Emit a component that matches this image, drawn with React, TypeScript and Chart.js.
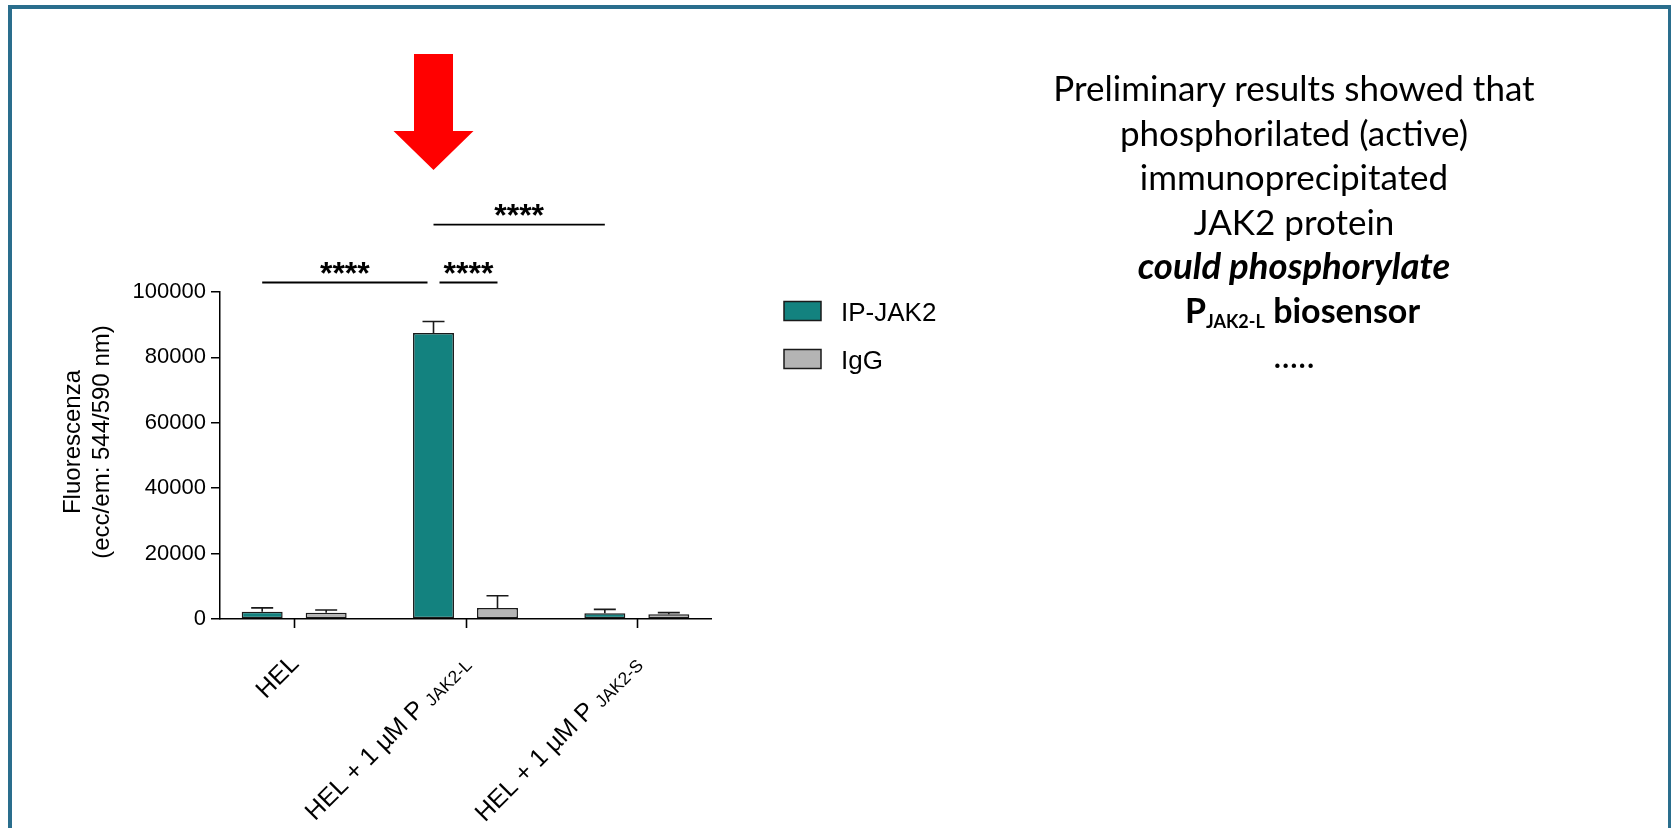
import React, { useEffect, useRef } from "react";
import { Chart, registerables } from "chart.js";

Chart.register(...registerables);

// ---------- data ----------
const categories = ["HEL", "HEL + 1 µM P", "HEL + 1 µM P"];
const categorySubscripts = ["", "JAK2-L", "JAK2-S"];
const seriesNames = ["IP-JAK2", "IgG"];
const ipJak2Values = [2250, 87500, 1750];
const ipJak2Errors = [1150, 3500, 1200];
const iggValues = [1900, 3400, 1450];
const iggErrors = [850, 3700, 500];
const yTicks = [0, 20000, 40000, 60000, 80000, 100000];
const yTitleLines = ["Fluorescenza", "(ecc/em: 544/590 nm)"];
// significance brackets: [dataset, category] -> [dataset, category], drawn at a y value
const bracketFrom = [[0, 0], [0, 1], [0, 1]];
const bracketTo = [[0, 1], [1, 1], [0, 2]];
const bracketLevels = [102900, 102900, 120600];
const bracketLabels = ["****", "****", "****"];
const paragraphLines = [
  "Preliminary results showed that",
  "phosphorilated (active)",
  "immunoprecipitated",
  "JAK2 protein",
];

// ---------- styles ----------
const TEAL = "#13827f";
const GRAY = "#b4b4b4";
const EDGE = "#1a1a1a";
const FONT = "Arial, 'Liberation Sans', sans-serif";
const FRAME = "#2a6e8d";

const valueSets = [ipJak2Values, iggValues];
const errorSets = [ipJak2Errors, iggErrors];

const annotationPlugin = {
  id: "annotations",
  afterDatasetsDraw(chart: any) {
    const { ctx } = chart;
    const y = chart.scales.y;
    const x = chart.scales.x;
    const area = chart.chartArea;
    ctx.save();

    // x-axis tick marks at category centres
    ctx.strokeStyle = "#000";
    ctx.lineWidth = 1.6;
    categories.forEach((_, i) => {
      const px = Math.round(x.getPixelForValue(i)) + 0.5;
      ctx.beginPath();
      ctx.moveTo(px, area.bottom);
      ctx.lineTo(px, area.bottom + 9);
      ctx.stroke();
    });

    // error bars
    ctx.strokeStyle = EDGE;
    ctx.lineWidth = 1.6;
    errorSets.forEach((errs, di) => {
      const meta = chart.getDatasetMeta(di);
      meta.data.forEach((bar: any, i: number) => {
        const top = y.getPixelForValue(valueSets[di][i] + errs[i]);
        ctx.beginPath();
        ctx.moveTo(bar.x, bar.y);
        ctx.lineTo(bar.x, top);
        ctx.moveTo(bar.x - 11, top);
        ctx.lineTo(bar.x + 11, top);
        ctx.stroke();
      });
    });

    // significance brackets
    const barX = (p: number[]) => chart.getDatasetMeta(p[0]).data[p[1]].x;
    bracketFrom.forEach((from, k) => {
      const to = bracketTo[k];
      let x1 = barX(from);
      let x2 = barX(to);
      // separate brackets that share an end point
      if (k === 0) x2 -= 6;
      if (k === 1) x1 += 6;
      const ly = y.getPixelForValue(bracketLevels[k]);
      ctx.strokeStyle = "#000";
      ctx.lineWidth = 1.8;
      ctx.beginPath();
      ctx.moveTo(x1, ly);
      ctx.lineTo(x2, ly);
      ctx.stroke();
      ctx.fillStyle = "#000";
      ctx.font = `bold 32px ${FONT}`;
      ctx.textAlign = "center";
      ctx.textBaseline = "alphabetic";
      ctx.fillText(bracketLabels[k], (x1 + x2) / 2, ly + 1);
    });

    // red arrow pointing at the IP-JAK2 bar of the second category
    const ax = chart.getDatasetMeta(0).data[1].x;
    ctx.fillStyle = "#ff0000";
    ctx.beginPath();
    ctx.moveTo(ax - 19.5, 54);
    ctx.lineTo(ax + 19.5, 54);
    ctx.lineTo(ax + 19.5, 131);
    ctx.lineTo(ax + 40, 131);
    ctx.lineTo(ax, 170);
    ctx.lineTo(ax - 40, 131);
    ctx.lineTo(ax - 19.5, 131);
    ctx.closePath();
    ctx.fill();

    // x category labels (rotated, with smaller subscript part)
    ctx.fillStyle = "#000";
    ctx.textBaseline = "alphabetic";
    ctx.textAlign = "left";
    categories.forEach((cat, i) => {
      const px = x.getPixelForValue(i);
      ctx.save();
      ctx.translate(px + 6, area.bottom + 46);
      ctx.rotate(-Math.PI / 4);
      ctx.font = `17.5px ${FONT}`;
      const sub = categorySubscripts[i];
      const wSub = sub ? ctx.measureText(sub).width : 0;
      ctx.font = `25px ${FONT}`;
      const main = sub ? cat + " " : cat;
      const wMain = ctx.measureText(main).width;
      ctx.fillText(main, -(wMain + wSub), 0);
      if (sub) {
        ctx.font = `17.5px ${FONT}`;
        ctx.fillText(sub, -wSub, 2);
      }
      ctx.restore();
    });

    // y axis title (two lines)
    ctx.font = `24px ${FONT}`;
    ctx.textAlign = "center";
    const cy = 442;
    [80, 108.5].forEach((bx, li) => {
      ctx.save();
      ctx.translate(bx, cy);
      ctx.rotate(-Math.PI / 2);
      ctx.fillText(yTitleLines[li], 0, 0);
      ctx.restore();
    });

    // legend
    const ds = chart.data.datasets;
    ctx.font = `26px ${FONT}`;
    ctx.textAlign = "left";
    ds.forEach((d: any, i: number) => {
      const base = 320.5 + i * 48;
      ctx.fillStyle = d.backgroundColor;
      ctx.fillRect(784, base - 19, 37, 19);
      ctx.strokeStyle = EDGE;
      ctx.lineWidth = 1.5;
      ctx.strokeRect(784, base - 19, 37, 19);
      ctx.fillStyle = "#000";
      ctx.fillText(d.label, 841, base);
    });

    ctx.restore();
  },
};

export default function App() {
  const canvasRef = useRef<HTMLCanvasElement>(null);

  useEffect(() => {
    const canvas = canvasRef.current;
    if (!canvas) return;
    const chart = new Chart(canvas, {
      type: "bar",
      data: {
        datasets: [
          {
            label: seriesNames[0],
            data: ipJak2Values.map((v, i) => ({ x: i, y: v })),
            backgroundColor: TEAL,
            borderColor: EDGE,
            borderWidth: 1.5,
            borderSkipped: false,
            categoryPercentage: 0.747,
            barPercentage: 0.64,
          },
          {
            label: seriesNames[1],
            data: iggValues.map((v, i) => ({ x: i, y: v })),
            backgroundColor: GRAY,
            borderColor: EDGE,
            borderWidth: 1.5,
            borderSkipped: false,
            categoryPercentage: 0.747,
            barPercentage: 0.64,
          },
        ],
      } as any,
      options: {
        responsive: true,
        maintainAspectRatio: false,
        animation: false,
        layout: { padding: { left: 0, top: 292, right: 289, bottom: 0 } },
        plugins: {
          legend: { display: false },
          tooltip: { enabled: false },
        },
        scales: {
          x: {
            type: "linear",
            min: -0.433,
            max: 2.433,
            offset: false,
            afterBuildTicks: (s: any) => {
              s.ticks = categories.map((_, i) => ({ value: i }));
            },
            afterFit: (s: any) => {
              s.height = 209;
            },
            ticks: { display: false },
            grid: { display: false, drawTicks: false },
            border: { display: true, color: "#000", width: 1.5 },
          },
          y: {
            min: 0,
            max: 100000,
            afterBuildTicks: (s: any) => {
              s.ticks = yTicks.map((v) => ({ value: v }));
            },
            afterFit: (s: any) => {
              s.width = 220;
            },
            ticks: {
              color: "#000",
              padding: 5,
              font: { family: FONT, size: 22 },
              callback: (v: any) => String(v),
            },
            grid: {
              drawOnChartArea: false,
              drawTicks: true,
              tickLength: 9,
              color: "#000",
              lineWidth: 1.5,
            },
            border: { display: true, color: "#000", width: 1.5 },
          },
        },
      } as any,
      plugins: [annotationPlugin],
    });
    return () => chart.destroy();
  }, []);

  const lineStyle: React.CSSProperties = { height: 44.5, whiteSpace: "nowrap" };

  return (
    <div
      style={{
        position: "fixed",
        left: 0,
        top: 0,
        width: 1671,
        height: 828,
        overflow: "hidden",
        background: "#fff",
      }}
    >
      <div
        style={{
          position: "absolute",
          left: 8,
          top: 5,
          width: 1664,
          height: 900,
          border: `4px solid ${FRAME}`,
          boxSizing: "border-box",
        }}
      />
      <div style={{ position: "absolute", left: 0, top: 0, width: 1000, height: 828 }}>
        <canvas ref={canvasRef} />
      </div>
      <div
        style={{
          position: "absolute",
          left: 1294 - 300,
          top: 65,
          width: 600,
          textAlign: "center",
          fontFamily: "Lato, 'Open Sans', sans-serif",
          fontSize: 35,
          lineHeight: "44.5px",
          color: "#000",
        }}
      >
        {paragraphLines.map((l, i) => (
          <div key={i} style={lineStyle}>
            {l}
          </div>
        ))}
        <div style={{ ...lineStyle, fontWeight: 700, fontStyle: "italic", fontSize: 36.5 }}>
          could phosphorylate
        </div>
        <div style={{ ...lineStyle, fontWeight: 700, fontSize: 34, paddingLeft: 17 }}>
          P
          <span style={{ fontSize: "0.53em", verticalAlign: "-0.3em", lineHeight: 0 }}>JAK2-L</span>{" "}
          biosensor
        </div>
        <div style={lineStyle}>.....</div>
      </div>
    </div>
  );
}
